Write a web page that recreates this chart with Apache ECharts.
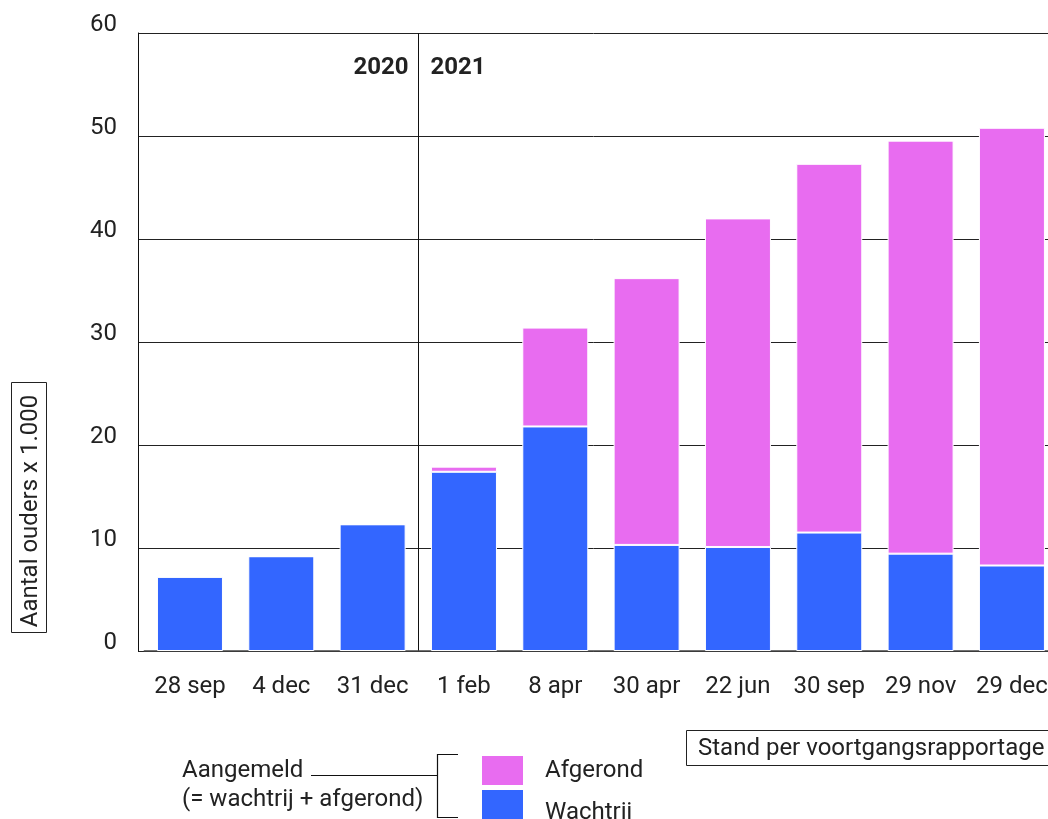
<!DOCTYPE html>
<html><head><meta charset="utf-8">
<script src="https://cdn.jsdelivr.net/npm/echarts@6/dist/echarts.min.js"></script>
<style>html,body{margin:0;padding:0;background:#fff}#c{width:1048px;height:819px}</style>
</head><body><div id="c"></div>
<script>
const categories = ['28 sep','4 dec','31 dec','1 feb','8 apr','30 apr','22 jun','30 sep','29 nov','29 dec'];
const wachtrij = [7.2, 9.2, 12.3, 17.4, 21.8, 10.3, 10.1, 11.5, 9.45, 8.3];
const afgerond = [0, 0, 0, 0.5, 9.6, 25.9, 31.9, 35.8, 40.1, 42.5];
const yTicks = [0, 10, 20, 30, 40, 50, 60];
const yearLabels = ['2020', '2021'];
const yAxisTitle = 'Aantal ouders x 1.000';
const FONT = 'Roboto';
const FS = 24;
const TXT = '#222';
const chart = echarts.init(document.getElementById('c'));
chart.setOption({
  animation: false,
  textStyle: {fontFamily: FONT},
  grid: [
    {left: 144.3, width: 913.3, top: 33, bottom: 168, outerBoundsMode: 'none', containLabel: false},
    {left: 138, width: 920, top: 33, bottom: 168, outerBoundsMode: 'none', containLabel: false}
  ],
  legend: [
    {data: ['Afgerond'], left: 480, top: 754, padding: 0, itemWidth: 43, itemHeight: 31,
     icon: 'rect', selectedMode: false,
     textStyle: {fontSize: FS, color: TXT, fontFamily: FONT, padding: [0, 0, 0, 16]}},
    {data: ['Wachtrij'], left: 480, top: 788, padding: 0, itemWidth: 43, itemHeight: 31,
     icon: 'rect', selectedMode: false,
     formatter: '{a|{name}}',
     textStyle: {fontSize: FS, color: TXT, fontFamily: FONT,
       rich: {a: {fontSize: FS, color: TXT, fontFamily: FONT, padding: [16, 0, 0, 16]}}}}
  ],
  xAxis: [
    {
      type: 'category', data: categories, gridIndex: 0,
      axisTick: {show: false},
      axisLine: {lineStyle: {color: '#444', width: 1.5}},
      axisLabel: {fontSize: FS, color: TXT, margin: 24, interval: 0, fontFamily: FONT},
      splitLine: {show: false}
    },
    {type: 'value', gridIndex: 1, show: false}
  ],
  yAxis: [
    {
      type: 'value', gridIndex: 0, min: yTicks[0], max: yTicks[yTicks.length - 1], interval: 10,
      axisLine: {show: false}, axisTick: {show: false}, axisLabel: {show: false}, splitLine: {show: false}
    },
    {
      type: 'value', gridIndex: 1, min: yTicks[0], max: yTicks[yTicks.length - 1], interval: 10,
      axisLine: {show: true, lineStyle: {color: '#111', width: 1}}, axisTick: {show: false},
      axisLabel: {fontSize: FS, color: TXT, margin: 21, verticalAlign: 'bottom', lineHeight: 16, fontFamily: FONT},
      splitLine: {lineStyle: {color: '#222', width: 1}}
    }
  ],
  series: [
    {name: 'Wachtrij', type: 'bar', stack: 't', data: wachtrij, barWidth: 66,
     itemStyle: {color: '#3366FF', borderColor: '#fff', borderWidth: 1}},
    {name: 'Afgerond', type: 'bar', stack: 't', data: afgerond, barWidth: 66,
     itemStyle: {color: '#E86CF0', borderColor: '#fff', borderWidth: 1}}
  ]
});
const xa = chart.convertToPixel({xAxisIndex: 0}, categories[2]);
const xb = chart.convertToPixel({xAxisIndex: 0}, categories[3]);
const xd = Math.round((xa + xb) / 2) + 0.5;
const yYear = chart.convertToPixel({yAxisIndex: 0}, 56.6);
const y0 = chart.convertToPixel({yAxisIndex: 0}, yTicks[0]);
const yTop = chart.convertToPixel({yAxisIndex: 0}, yTicks[yTicks.length - 1]);
const F = FS + 'px Roboto';
chart.setOption({
  graphic: [
    {type: 'line', shape: {x1: xd, y1: yTop, x2: xd, y2: y0}, style: {stroke: '#111', lineWidth: 1}, z: 0},
    {type: 'text', x: xd - 10, y: yYear, style: {text: yearLabels[0], font: 'bold ' + F, fill: TXT, align: 'right', verticalAlign: 'middle'}},
    {type: 'text', x: xd + 12, y: yYear, style: {text: yearLabels[1], font: 'bold ' + F, fill: TXT, align: 'left', verticalAlign: 'middle'}},
    {type: 'rect', shape: {x: 11.5, y: 382.5, width: 35, height: 250}, style: {fill: 'none', stroke: '#222', lineWidth: 1}},
    {type: 'text', x: 31, y: 511, rotation: Math.PI / 2, style: {text: yAxisTitle, font: F, fill: TXT, align: 'center', verticalAlign: 'middle'}},
    {type: 'rect', shape: {x: 686.5, y: 730.5, width: 380, height: 35}, style: {fill: 'none', stroke: '#222', lineWidth: 1}},
    {type: 'text', x: 698, y: 749, style: {text: 'Stand per voortgangsrapportage', font: F, fill: TXT, align: 'left', verticalAlign: 'middle'}},
    {type: 'text', x: 182, y: 771, style: {text: 'Aangemeld', font: F, fill: TXT, align: 'left', verticalAlign: 'middle'}},
    {type: 'text', x: 182, y: 800, style: {text: '(= wachtrij + afgerond)', font: F, fill: TXT, align: 'left', verticalAlign: 'middle'}},
    {type: 'polyline', shape: {points: [[311, 775.5], [437, 775.5]]}, style: {stroke: '#111', lineWidth: 1.2}},
    {type: 'polyline', shape: {points: [[458, 754.5], [437.5, 754.5], [437.5, 817.5], [458, 817.5]]}, style: {stroke: '#111', fill: 'none', lineWidth: 1.2}}
  ]
});
</script></body></html>
